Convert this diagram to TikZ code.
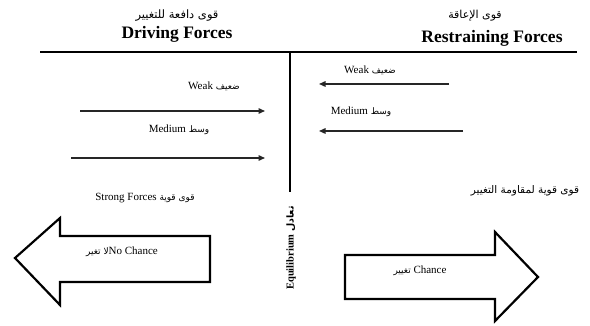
\documentclass[tikz,border=0pt]{standalone}
\usepackage{fontspec}
\setmainfont{Liberation Serif}
\newfontfamily\arabicfont[Script=Arabic]{DejaVu Sans}
\TeXXeTstate=1
\usetikzlibrary{arrows.meta}

% Arabic run, set right to left
\newcommand\arx[2][9]{{\arabicfont\fontsize{#1}{#1}\selectfont\beginR #2\endR}}

\begin{document}
\begin{tikzpicture}[x=1pt,y=-1pt,
  txt/.style={inner sep=0pt},
  heading/.style={txt,font=\bfseries\fontsize{17.5}{20}\selectfont},
  label/.style={txt,font=\fontsize{11}{13}\selectfont},
  force/.style={line width=1.4pt,draw=black!85,-{Triangle[length=6.5pt,width=5.5pt]}},
  rule/.style={line width=2.2pt},
  blockarrow/.style={line width=2.2pt,line join=miter,fill=white}]

\useasboundingbox (0,0) rectangle (590,326);

% column headings
\node[txt] (drvar) at (177,16) {\arx[11.5]{قوى دافعة للتغيير}};
\node[heading] (drv) at (177,34) {Driving Forces};
\node[txt] (rstar) at (475,16) {\arx[11]{قوى الإعاقة}};
\node[heading] (rst) at (492,38) {Restraining Forces};

% frame: horizontal rule and central divider
\coordinate (ruleL) at (40,52);
\coordinate (ruleR) at (577,52);
\coordinate (divT) at (290,52);
\coordinate (divB) at (290,192);
\draw[rule] (ruleL) -- (ruleR);
\draw[line width=1.8pt] (divT) -- (divB);

% driving forces (left side)
\node[label] (dweak) at (214,86) {Weak \arx{ضعيف}};
\coordinate (dw1) at (80,111);
\coordinate (dw2) at (265,111);
\draw[force] (dw1) -- (dw2);
\node[label] (dmed) at (179,130) {Medium \arx{وسط}};
\coordinate (dm1) at (71,158);
\coordinate (dm2) at (265,158);
\draw[force] (dm1) -- (dm2);

% restraining forces (right side)
\node[label] (rweak) at (370,70) {Weak \arx{ضعيف}};
\coordinate (rw1) at (449,84);
\coordinate (rw2) at (319,84);
\draw[force] (rw1) -- (rw2);
\node[label] (rmed) at (361,112) {Medium \arx{وسط}};
\coordinate (rm1) at (463,131);
\coordinate (rm2) at (319,131);
\draw[force] (rm1) -- (rm2);

% strong forces
\node[label] (dstrong) at (145,198) {Strong Forces \arx{قوى قوية}};
\node[txt] (rstrong) at (525,191) {\arx[10.5]{قوى قوية لمقاومة التغيير}};

% block arrows
\draw[blockarrow] (15,258) -- (60,218) -- (60,236) -- (210,236) -- (210,282)
  -- (60,282) -- (60,305) -- cycle;
\node[label] (nochance) at (122,252) {\arx{لا تغير}No Chance};

\draw[blockarrow] (345,255) -- (495,255) -- (495,232) -- (538,277) -- (495,321)
  -- (495,299) -- (345,299) -- cycle;
\node[label] (chance) at (420,271) {\arx{تغيير} Chance};

% equilibrium
\node[txt,rotate=90,font=\bfseries\fontsize{10.5}{12}\selectfont] (eq) at (291,248)
  {Equilibrium {\bfseries\arx[9.5]{تعادل}}};
\end{tikzpicture}
\end{document}
